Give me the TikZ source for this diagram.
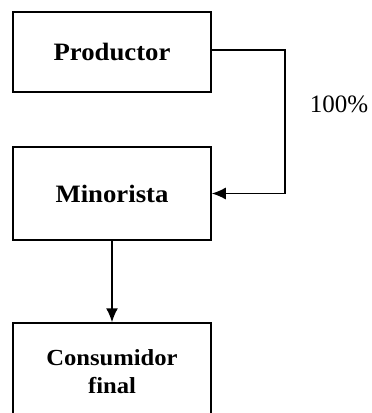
\documentclass[tikz,border=0pt]{standalone}
\usepackage{fontspec}
\setmainfont{Liberation Serif}
\newfontfamily\boxfont{Liberation Serif}[FakeStretch=1.07]
\usetikzlibrary{arrows.meta}
\begin{document}
\begin{tikzpicture}[x=1pt,y=-1pt,
  box/.style={draw,line width=1.5pt,minimum width=198pt,inner sep=0pt,align=center,font=\boxfont\bfseries\fontsize{25}{28}\selectfont},
  conn/.style={line width=1.5pt,-{Latex[length=14pt,width=12pt]}}]
\path[use as bounding box] (0,0) rectangle (372,413);
\begin{scope}
\clip (0,0) rectangle (372,413);
\node[box,minimum height=80pt] (p) at (112,52) {Productor};
\node[box,minimum height=93pt] (m) at (112,193.5) {Minorista};
\node[box,minimum height=97pt,font=\boxfont\bfseries\fontsize{23}{28}\selectfont] (c) at (112,371.5) {Consumidor\\final};
\end{scope}
\coordinate (r) at (285,50);
\draw[conn] (p.east |- r) -- (r) |- (m.east);
\draw[conn] (m.south) -- (c.north);
\node[font=\fontsize{25}{30}\selectfont,anchor=base] (l) at (339,112) {100\%};
\end{tikzpicture}
\end{document}
